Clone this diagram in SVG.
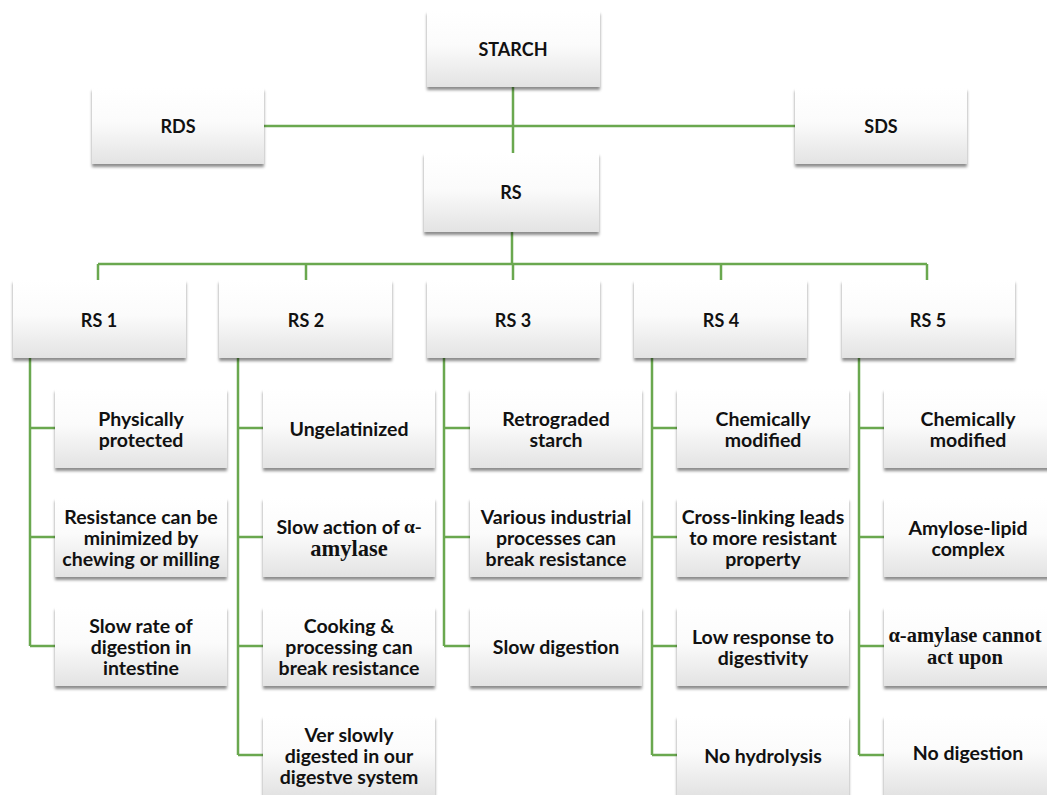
<svg xmlns="http://www.w3.org/2000/svg" width="1047" height="795" viewBox="0 0 1047 795">
<style>
.box{fill:url(#g);filter:url(#sh)}
.t{font-family:Lato,"Liberation Sans",sans-serif;font-weight:bold;font-size:19.5px;fill:#111;text-anchor:middle;dominant-baseline:central}
.h{font-size:18px}
.s{font-family:"Liberation Serif",serif;font-weight:bold;font-size:22.5px}
.s2{font-family:"Liberation Serif",serif;font-weight:bold;font-size:20.5px}
.c{stroke:#6aa84f;stroke-width:2.5;fill:none}
</style>
<defs>
<linearGradient id="g" x1="0" y1="0" x2="0" y2="1">
<stop offset="0" stop-color="#ffffff"/>
<stop offset="0.45" stop-color="#fbfbfb"/>
<stop offset="1" stop-color="#e3e3e3"/>
</linearGradient>
<filter id="sh" x="-10%" y="-10%" width="120%" height="130%">
<feDropShadow dx="0" dy="3" stdDeviation="1.8" flood-color="#000" flood-opacity="0.45"/>
</filter>
</defs>
<rect width="1047" height="795" fill="#fff"/>
<g id="connectors" class="c">
<path d="M513 87V153M264 126H795M512 232V264M98 264H927M98 264V280M306 264V280M513 264V280M721 264V280M927 264V280"/>
<path d="M30 358V646M30 428H55M30 537H55M30 646H55"/>
<path d="M238 358V755M238 428H263M238 537H263M238 646H263M238 755H263"/>
<path d="M444 358V646M444 428H470M444 537H470M444 646H470"/>
<path d="M652 358V755M652 428H677M652 537H677M652 646H677M652 755H677"/>
<path d="M859 358V755M859 428H884M859 537H884M859 646H884M859 755H884"/>
</g>
<g id="starch"><rect class="box" x="427" y="11" width="173" height="76"/><text class="t h" x="513" y="49">STARCH</text></g>
<g id="rds"><rect class="box" x="92" y="88" width="172" height="76"/><text class="t h" x="178" y="126">RDS</text></g>
<g id="sds"><rect class="box" x="795" y="88" width="172" height="76"/><text class="t h" x="881" y="126">SDS</text></g>
<g id="rs"><rect class="box" x="424" y="153" width="175" height="79"/><text class="t h" x="511" y="192">RS</text></g>
<g id="rs1"><rect class="box" x="13" y="280" width="173" height="78"/><text class="t h" x="99" y="320">RS 1</text></g>
<g id="rs2"><rect class="box" x="219" y="280" width="173" height="78"/><text class="t h" x="306" y="320">RS 2</text></g>
<g id="rs3"><rect class="box" x="427" y="280" width="173" height="78"/><text class="t h" x="513" y="320">RS 3</text></g>
<g id="rs4"><rect class="box" x="634" y="280" width="173" height="78"/><text class="t h" x="721" y="320">RS 4</text></g>
<g id="rs5"><rect class="box" x="842" y="280" width="173" height="78"/><text class="t h" x="928" y="320">RS 5</text></g>

<g id="rs1a"><rect class="box" x="55" y="389" width="172" height="79"/><text class="t" x="141" y="418">Physically<tspan x="141" dy="21">protected</tspan></text></g>
<g id="rs1b"><rect class="box" x="55" y="498" width="172" height="79"/><text class="t" x="141" y="516">Resistance can be<tspan x="141" dy="21">minimized by</tspan><tspan x="141" dy="21">chewing or milling</tspan></text></g>
<g id="rs1c"><rect class="box" x="55" y="607" width="172" height="79"/><text class="t" x="141" y="625">Slow rate of<tspan x="141" dy="21">digestion in</tspan><tspan x="141" dy="21">intestine</tspan></text></g>

<g id="rs2a"><rect class="box" x="263" y="389" width="172" height="79"/><text class="t" x="349" y="428">Ungelatinized</text></g>
<g id="rs2b"><rect class="box" x="263" y="498" width="172" height="79"/><text class="t" x="349" y="526">Slow action of <tspan class="s" style="font-size:19.5px">α-</tspan><tspan class="s" x="349" dy="22">amylase</tspan></text></g>
<g id="rs2c"><rect class="box" x="263" y="607" width="172" height="79"/><text class="t" x="349" y="625">Cooking &amp;<tspan x="349" dy="21">processing can</tspan><tspan x="349" dy="21">break resistance</tspan></text></g>
<g id="rs2d"><rect class="box" x="263" y="716" width="172" height="79"/><text class="t" x="349" y="734">Ver slowly<tspan x="349" dy="21">digested in our</tspan><tspan x="349" dy="21">digestve system</tspan></text></g>

<g id="rs3a"><rect class="box" x="470" y="389" width="172" height="79"/><text class="t" x="556" y="418">Retrograded<tspan x="556" dy="21">starch</tspan></text></g>
<g id="rs3b"><rect class="box" x="470" y="498" width="172" height="79"/><text class="t" x="556" y="516">Various industrial<tspan x="556" dy="21">processes can</tspan><tspan x="556" dy="21">break resistance</tspan></text></g>
<g id="rs3c"><rect class="box" x="470" y="607" width="172" height="79"/><text class="t" x="556" y="646">Slow digestion</text></g>

<g id="rs4a"><rect class="box" x="677" y="389" width="172" height="79"/><text class="t" x="763" y="418">Chemically<tspan x="763" dy="21">modified</tspan></text></g>
<g id="rs4b"><rect class="box" x="677" y="498" width="172" height="79"/><text class="t" x="763" y="516">Cross-linking leads<tspan x="763" dy="21">to more resistant</tspan><tspan x="763" dy="21">property</tspan></text></g>
<g id="rs4c"><rect class="box" x="677" y="607" width="172" height="79"/><text class="t" x="763" y="636">Low response to<tspan x="763" dy="21">digestivity</tspan></text></g>
<g id="rs4d"><rect class="box" x="677" y="716" width="172" height="79"/><text class="t" x="763" y="755">No hydrolysis</text></g>

<g id="rs5a"><rect class="box" x="884" y="389" width="172" height="79"/><text class="t" x="968" y="418">Chemically<tspan x="968" dy="21">modified</tspan></text></g>
<g id="rs5b"><rect class="box" x="884" y="498" width="172" height="79"/><text class="t" x="968" y="527">Amylose-lipid<tspan x="968" dy="21">complex</tspan></text></g>
<g id="rs5c"><rect class="box" x="884" y="607" width="172" height="79"/><text class="t s2" x="965" y="635">α-amylase cannot<tspan x="965" dy="22">act upon</tspan></text></g>
<g id="rs5d"><rect class="box" x="884" y="716" width="172" height="79"/><text class="t" x="968" y="752">No digestion</text></g>
</svg>
